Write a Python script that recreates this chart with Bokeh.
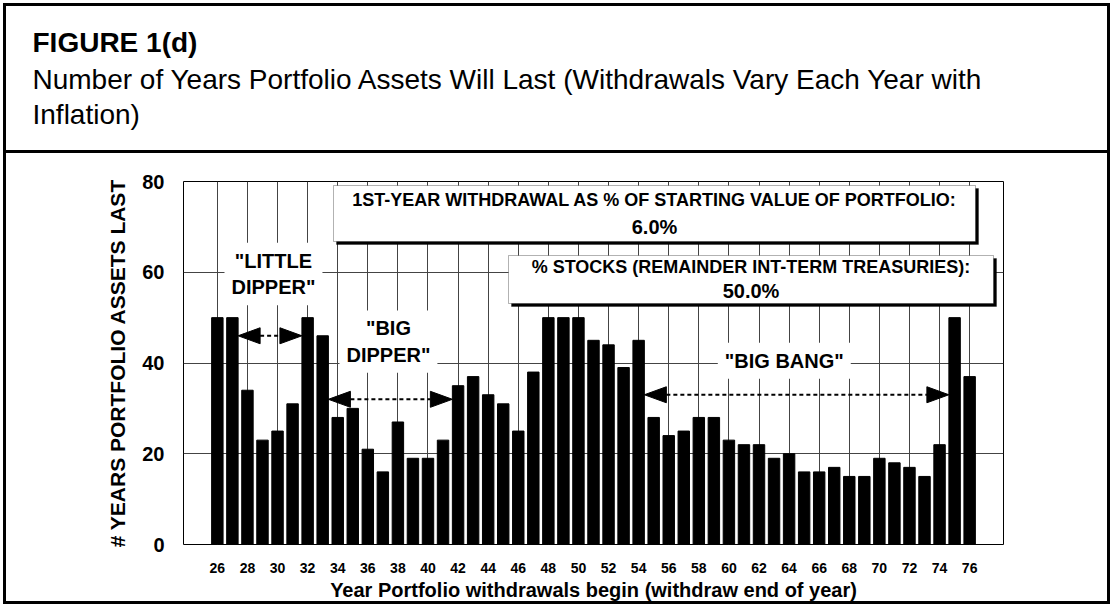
from bokeh.plotting import figure
from bokeh.models import Range1d, FixedTicker, Label, BoxAnnotation, Title
from bokeh.embed import file_html
from bokeh.resources import INLINE

# ---------------- data ----------------
years = [26, 27, 28, 29, 30, 31, 32, 33, 34, 35, 36, 37, 38, 39, 40, 41, 42, 43, 44, 45,
         46, 47, 48, 49, 50, 51, 52, 53, 54, 55, 56, 57, 58, 59, 60, 61, 62, 63, 64, 65,
         66, 67, 68, 69, 70, 71, 72, 73, 74, 75, 76]
years_assets_last = [50, 50, 34, 23, 25, 31, 50, 46, 28, 30, 21, 16, 27, 19, 19, 23, 35, 37, 33, 31,
                     25, 38, 50, 50, 50, 45, 44, 39, 45, 28, 24, 25, 28, 28, 23, 22, 22, 19, 20, 16,
                     16, 17, 15, 15, 19, 18, 17, 15, 22, 50, 37]
x_tick_values = [26, 28, 30, 32, 34, 36, 38, 40, 42, 44, 46, 48, 50, 52, 54, 56, 58, 60, 62, 64,
                 66, 68, 70, 72, 74, 76]
y_tick_values = [0, 20, 40, 60, 80]

figure_label = "FIGURE 1(d)"
subtitle_line1 = "Number of Years Portfolio Assets Will Last (Withdrawals Vary Each Year with"
subtitle_line2 = "Inflation)"
box1_lines = ["1ST-YEAR WITHDRAWAL AS % OF STARTING VALUE OF PORTFOLIO:", "6.0%"]
box2_lines = ["% STOCKS (REMAINDER INT-TERM TREASURIES):", "50.0%"]
# arrows between bars: (from year, to year, level)
arrows = [(27, 32, 46), (33, 42, 32), (54, 75, 33)]
period_labels = [('"LITTLE\nDIPPER"', 29.73, 59.6), ('"BIG\nDIPPER"', 37.37, 44.7), ('"BIG BANG"', 63.68, 40.5)]

# ---------------- layout ----------------
W, H = 1116, 608
FL, FR, FT, FB = 183, 1003, 181, 544      # frame in page pixels
X0, X1 = 23.75, 78.25
Y0, Y1 = 0, 80
FONT = "Liberation Sans"
BAR_W = 0.76

def X(px):
    return X0 + (px - FL) * (X1 - X0) / (FR - FL)

def Y(py):
    return Y0 + (FB - py) * (Y1 - Y0) / (FB - FT)

SX = (X1 - X0) / (FR - FL)   # data per px
SY = (Y1 - Y0) / (FB - FT)

p = figure(width=W, height=H, output_backend="svg", toolbar_location=None,
           x_range=Range1d(X0, X1), y_range=Range1d(Y0, Y1),
           min_border_left=FL, min_border_right=W - FR,
           min_border_top=FT, min_border_bottom=H - FB)
p.background_fill_color = "white"
p.border_fill_color = None
p.outline_line_color = "black"
p.outline_line_width = 1

# outer frame of the figure panel (header box + chart box)
def bar_css(x, y, w, h):
    return "linear-gradient(#000,#000) %dpx %dpx / %dpx %dpx no-repeat" % (x, y, w, h)

p.styles = {"background": ", ".join([
    bar_css(3, 3, 1107, 3),      # top
    bar_css(3, 150, 1107, 3),    # divider
    bar_css(3, 601, 1107, 3),    # bottom
    bar_css(3, 3, 3, 601),       # left
    bar_css(1107, 3, 3, 601),    # right
]) + ", #ffffff"}

# header texts (first added is nearest the chart); first entry is a blank spacer
header_rows = [("\u00a0", "normal", "2px", 47),
               (subtitle_line2, "normal", "28px", 2),
               (subtitle_line1, "normal", "28px", 2),
               (figure_label, "bold", "28px", 5)]
for txt, style, size, stand in header_rows:
    p.add_layout(Title(text=txt, align="left", offset=32 - FL, standoff=stand,
                       text_font=FONT, text_font_style=style, text_font_size=size,
                       text_color="black"), "above")

p.vbar(x=years, top=years_assets_last, bottom=0, width=BAR_W, color="black")

# axes
p.xaxis.ticker = FixedTicker(ticks=x_tick_values)
p.yaxis.ticker = FixedTicker(ticks=y_tick_values)
for ax in (p.xaxis, p.yaxis):
    ax.axis_line_color = None
    ax.major_tick_line_color = None
    ax.minor_tick_line_color = None
    ax.major_label_text_font = FONT
    ax.major_label_text_font_style = "bold"
    ax.major_label_text_color = "black"
    ax.axis_label_text_font = FONT
    ax.axis_label_text_font_style = "bold"
    ax.axis_label_text_color = "black"
p.xaxis.major_label_text_font_size = "14px"
p.yaxis.major_label_text_font_size = "20px"
p.xaxis.major_label_standoff = 12
p.yaxis.major_label_standoff = 13
p.xaxis.axis_label = "Year Portfolio withdrawals begin (withdraw end of year)"
p.yaxis.axis_label = "# YEARS PORTFOLIO ASSETS LAST"
p.xaxis.axis_label_text_font_size = "20px"
p.yaxis.axis_label_text_font_size = "21px"
p.xaxis.axis_label_standoff = 3
p.yaxis.axis_label_standoff = 10

p.xgrid.ticker = FixedTicker(ticks=x_tick_values)
p.ygrid.ticker = FixedTicker(ticks=y_tick_values)
p.xgrid.grid_line_color = "#444444"
p.ygrid.grid_line_color = "#444444"
p.xgrid.grid_line_width = 1
p.ygrid.grid_line_width = 1

# arrows
L_PX, H_PX = 22, 8
hx, hy, sx0, sx1, sy = [], [], [], [], []
for a, b, lvl in arrows:
    xs = a + BAR_W / 2
    xe = b - BAR_W / 2
    hx.append([xs, xs + L_PX * SX, xs + L_PX * SX])
    hy.append([lvl, lvl + H_PX * SY, lvl - H_PX * SY])
    hx.append([xe, xe - L_PX * SX, xe - L_PX * SX])
    hy.append([lvl, lvl + H_PX * SY, lvl - H_PX * SY])
    sx0.append(xs + L_PX * SX)
    sx1.append(xe - L_PX * SX)
    sy.append(lvl)
p.segment(x0=sx0, y0=sy, x1=sx1, y1=sy, line_color="black", line_width=2, line_dash="4 3")
p.patches(xs=hx, ys=hy, color="black")

# period labels (white background breaks the grid)
for txt, lx, ly in period_labels:
    p.add_layout(Label(x=lx, y=ly, text=txt, text_align="center", text_baseline="middle",
                       text_font=FONT, text_font_style="bold", text_font_size="20px",
                       text_color="black", background_fill_color="white", padding=7))

# info boxes with shadow
def info_box(left, right, top, bottom, lines, cy1, cy2):
    p.add_layout(BoxAnnotation(left=X(left + 3), right=X(right + 3), top=Y(top + 3), bottom=Y(bottom + 3),
                               fill_color="black", fill_alpha=1, line_color="black", line_width=1))
    p.add_layout(BoxAnnotation(left=X(left), right=X(right), top=Y(top), bottom=Y(bottom),
                               fill_color="white", fill_alpha=1, line_color="black", line_width=1))
    cx = X((left + right) / 2)
    p.add_layout(Label(x=cx, y=Y(cy1), text=lines[0], text_align="center", text_baseline="middle",
                       text_font=FONT, text_font_style="bold", text_font_size="18px", text_color="black"))
    p.add_layout(Label(x=cx, y=Y(cy2), text=lines[1], text_align="center", text_baseline="middle",
                       text_font=FONT, text_font_style="bold", text_font_size="20px", text_color="black"))

info_box(333, 975, 185, 241, box1_lines, 199, 226)
info_box(508, 993, 255, 303, box2_lines, 266, 290)

open("out.html", "w").write(file_html(p, INLINE))
